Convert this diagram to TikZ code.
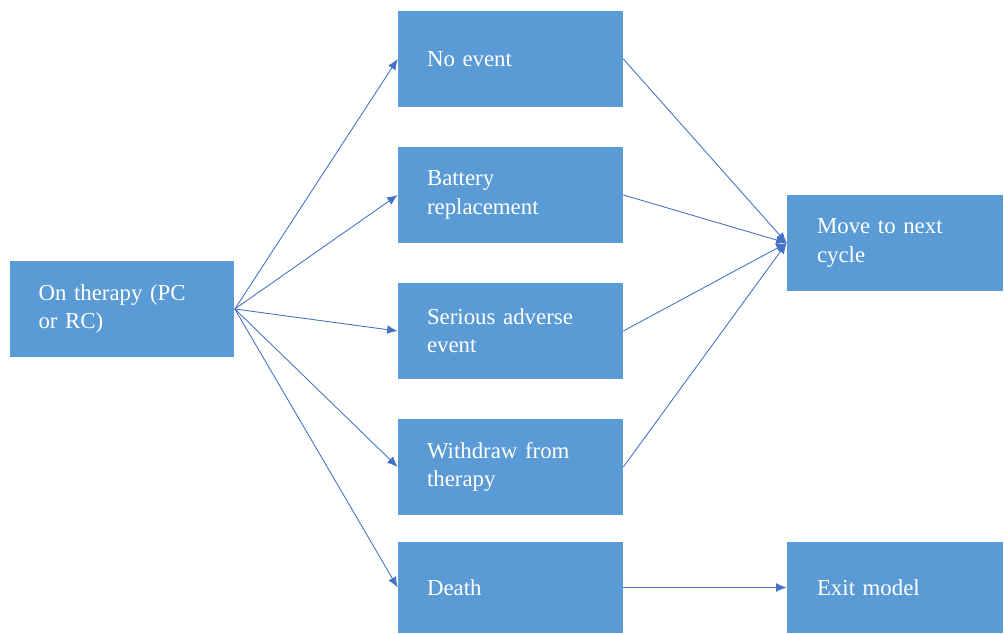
\documentclass[tikz,border=0pt]{standalone}
\usepackage{fontspec}
\setmainfont{Liberation Serif}
\usepackage{tikz}
\usetikzlibrary{arrows.meta}
\definecolor{boxblue}{HTML}{5B9BD5}
\definecolor{arrowblue}{HTML}{4472C4}
\tikzset{
  state/.style={rectangle,fill=boxblue,text=white,align=left,minimum height=1.92cm,
    inner xsep=0.58cm,text width=3.34cm,font=\fontsize{13}{16}\selectfont},
  outstate/.style={state,inner xsep=0.6cm,text width=3.12cm},
  flow/.style={arrowblue,line width=0.5pt,-{Latex[length=6pt,width=5pt]}}
}
\begin{document}
\begin{tikzpicture}[x=0.02cm,y=-0.02cm]
\useasboundingbox (0,0) rectangle (1004,634);
\path (122,309) node(start)[state]{On therapy (PC\\or RC)}
(510.5,59) node(noevent)[state]{No event}
(510.5,195) node(battery)[state]{Battery\\replacement}
(510.5,331) node(sae)[state]{Serious adverse\\event}
(510.5,467) node(withdraw)[state]{Withdraw from\\therapy}
(510.5,587.5) node(death)[state,minimum height=1.82cm]{Death}
(895,243) node(nextcycle)[outstate]{Move to next\\cycle}
(895,587.5) node(exitmodel)[outstate,minimum height=1.82cm]{Exit model};
% from the starting state
\draw[flow](start.east)--(noevent.west);
\draw[flow](start.east)--(battery.west);
\draw[flow](start.east)--(sae.west);
\draw[flow](start.east)--(withdraw.west);
\draw[flow](start.east)--(death.west);
% on to the next cycle
\draw[flow](noevent.east)--(nextcycle.west);
\draw[flow](battery.east)--(nextcycle.west);
\draw[flow](sae.east)--(nextcycle.west);
\draw[flow](withdraw.east)--(nextcycle.west);
\draw[flow](death.east)--(exitmodel.west);
\end{tikzpicture}
\end{document}
